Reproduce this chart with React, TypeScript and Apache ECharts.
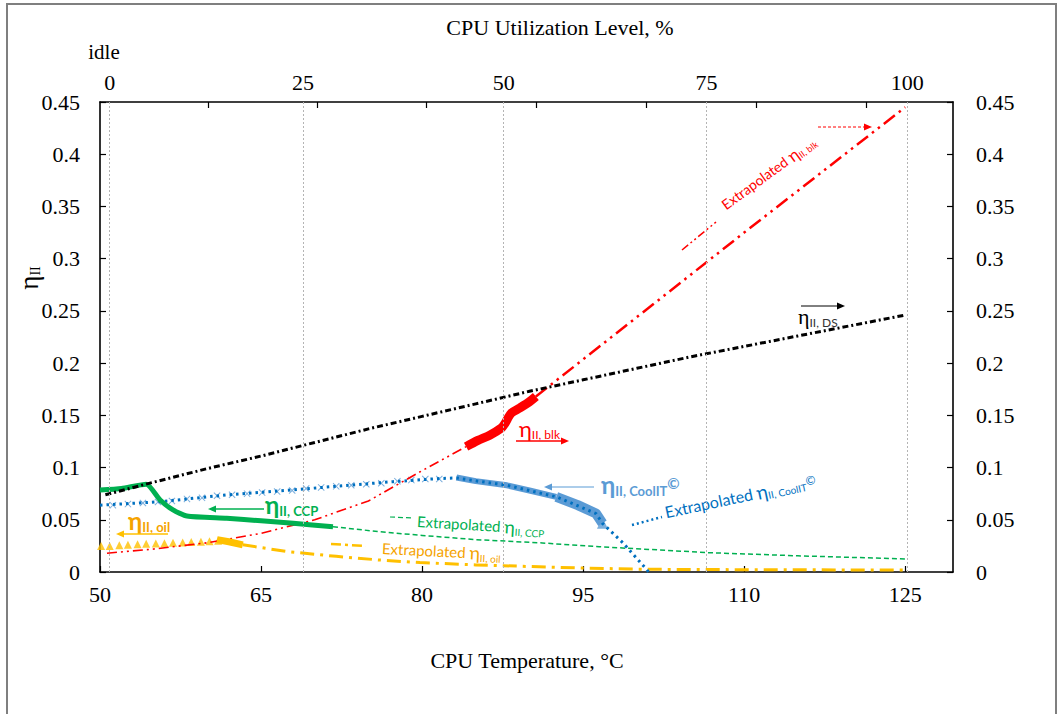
import { useEffect, useRef } from "react";
import * as echarts from "echarts";

// ---------- data ----------
// top axis: CPU utilization levels and the CPU temperatures where their gridlines sit
const utilLabels = ["0", "25", "50", "75", "100"];
const utilGridTemps = [50.9, 68.9, 87.6, 106.5, 125.2];
const topTickTemps = [60.1, 70.2, 80.4, 90.6, 100.9, 111.1, 121.4];

// eta_II, DS (black)
const dsTemp = [50.5, 55, 60, 65, 70, 75, 80, 85, 90, 95, 100, 105, 110, 115, 120, 125];
const dsEta = [0.074, 0.086, 0.099, 0.111, 0.124, 0.137, 0.149, 0.161, 0.173, 0.184, 0.195, 0.206, 0.216, 0.226, 0.236, 0.246];

// eta_II, blk (red) measured + extrapolated
const blkTemp = [84.1, 85.2, 86.3, 87.4, 87.7, 88.3, 89.1, 90.0, 90.6];
const blkEta = [0.120, 0.126, 0.131, 0.138, 0.142, 0.152, 0.157, 0.163, 0.168];
const blkExtLowTemp = [50.65, 55, 60, 65, 70, 75, 80, 84.1];
const blkExtLowEta = [0.018, 0.022, 0.028, 0.037, 0.050, 0.068, 0.097, 0.120];
const blkExtHighTemp = [90.6, 100, 110, 125];
const blkExtHighEta = [0.168, 0.244, 0.325, 0.445];

// eta_II, CCP (green)
const ccpTemp = [50, 52, 54.3, 55.6, 56.8, 58.1, 61.8, 65, 68, 71.7];
const ccpEta = [0.0785, 0.080, 0.084, 0.069, 0.0594, 0.0536, 0.0514, 0.049, 0.0466, 0.0434];
const ccpExtTemp = [71.7, 76, 80, 85, 91.2, 96.5, 106.7, 115, 125];
const ccpExtEta = [0.0434, 0.0386, 0.035, 0.031, 0.0278, 0.0242, 0.0185, 0.0155, 0.0125];

// eta_II, oil (orange)
const oilTemp = [50.1, 50.9, 51.8, 52.6, 53.5, 54.3, 55.2, 56.0, 56.8, 57.7, 58.5, 59.4, 60.2, 61.0];
const oilEta = [0.0248, 0.025, 0.0255, 0.026, 0.0265, 0.027, 0.0272, 0.0275, 0.028, 0.0283, 0.0287, 0.029, 0.0295, 0.030];
const oilEndTemp = [60.9, 62, 63.3];
const oilEndEta = [0.031, 0.029, 0.026];
const oilExtTemp = [63.3, 67.5, 72, 76, 79.8, 85, 90.9, 95, 100.8, 110, 125];
const oilExtEta = [0.026, 0.0195, 0.015, 0.0115, 0.009, 0.0068, 0.005, 0.0038, 0.0026, 0.0022, 0.0019];

// eta_II, CoolIT (blue)
const coolLineTemp = [50, 55.6, 61.8, 68.6, 77.3, 81.6, 83.2, 87.9, 92.5, 96.2, 96.8, 98.7, 100.9, 101.1];
const coolLineEta = [0.064, 0.0673, 0.0738, 0.0792, 0.0865, 0.0895, 0.090, 0.083, 0.072, 0.056, 0.0466, 0.028, 0.0026, 0];
const coolMarkTemp = [51.2, 52.6, 54.0, 55.4, 56.7, 58.1, 59.5, 60.9, 62.3, 63.7, 65.1, 66.5, 67.9, 69.2, 70.6, 72.0, 73.4, 74.8, 76.2, 77.7, 79.0, 80.3, 81.6];
const coolMarkEta = [0.064, 0.065, 0.066, 0.067, 0.068, 0.070, 0.071, 0.073, 0.074, 0.075, 0.076, 0.077, 0.078, 0.080, 0.081, 0.082, 0.083, 0.084, 0.085, 0.087, 0.088, 0.089, 0.089];
const coolDenseTemp = [83.2, 85, 87.9, 90, 92.5];
const coolDenseEta = [0.0905, 0.087, 0.083, 0.078, 0.072];
const coolDense2Temp = [92.5, 94.5, 96.2, 96.8];
const coolDense2Eta = [0.072, 0.064, 0.056, 0.0466];

// ---------- styling ----------
const SERIF = "'Liberation Serif', 'Times New Roman', serif";
const SANS = "Lato, 'Noto Sans', 'Open Sans', sans-serif";
const RED = "#ff0000";
const GREEN = "#00b050";
const ORANGE = "#ffc000";
const ORANGE_TXT = "#f5a300";
const BLUE = "#0070c0";
const LBLUE = "#5b9bd5";

const zip = (t: number[], v: number[]) => t.map((x, i) => [x, v[i]]);

const line = (data: number[][], color: string, width: number, type: any, extra: any = {}) => ({
  type: "line",
  data,
  symbol: "none",
  showSymbol: false,
  silent: true,
  lineStyle: { color, width, type, cap: "butt", join: "round" },
  itemStyle: { color },
  ...extra,
});

const X_SYMBOL = "path://M1,0L5,4L9,0L10,1L6,5L10,9L9,10L5,6L1,10L0,9L4,5L0,1Z";

function arrow(x1: number, y1: number, x2: number, y2: number, color: string, lw: number, dash?: number[], head = 8, hw = 3.5) {
  const dx = x2 - x1, dy = y2 - y1, L = Math.hypot(dx, dy), ux = dx / L, uy = dy / L;
  const bx = x2 - ux * head, by = y2 - uy * head;
  return [
    { type: "line", silent: true, shape: { x1, y1, x2: bx, y2: by }, style: { stroke: color, lineWidth: lw, lineDash: dash } },
    { type: "polygon", silent: true, shape: { points: [[x2, y2], [bx - uy * hw, by + ux * hw], [bx + uy * hw, by - ux * hw]] }, style: { fill: color } },
  ];
}

function seg(x1: number, y1: number, x2: number, y2: number, color: string, lw: number, dash?: number[]) {
  return { type: "line", silent: true, shape: { x1, y1, x2, y2 }, style: { stroke: color, lineWidth: lw, lineDash: dash } };
}

function etaLabel(x: number, y: number, sub: string, color: string, opts: any = {}) {
  const eSize = opts.eSize ?? 22;
  const sSize = opts.sSize ?? 12;
  const weight = opts.bold ? "bold" : "normal";
  const pad = opts.pad ?? 12;
  const pre = opts.pre ?? "";
  const sup = opts.sup ?? "";
  let text = "";
  if (pre) text += `{p|${pre}}`;
  text += `{e|η}{s|${sub}}`;
  if (sup) text += `{u|${sup}}`;
  return {
    type: "text",
    x,
    y,
    rotation: opts.rot ?? 0,
    silent: true,
    style: {
      text,
      align: "left",
      verticalAlign: "middle",
      rich: {
        p: { fontFamily: SANS, fontSize: opts.pSize ?? 15, fill: color, fontWeight: weight },
        e: { fontFamily: opts.eFont ?? SANS, fontSize: eSize, fill: color, fontWeight: weight },
        s: { fontFamily: SANS, fontSize: sSize, fill: opts.subColor ?? color, fontWeight: weight, padding: [pad, 0, 0, 0] },
        u: { fontFamily: SANS, fontSize: sSize + 2, fill: color, fontWeight: weight, padding: [0, 0, opts.supPad ?? 4, 0] },
      },
    },
  };
}

const axisText = { fontFamily: SERIF, fontSize: 22, color: "#000" };
const axisLineStyle = { show: true, onZero: false, lineStyle: { color: "#000", width: 1.6 } };
const tickStyle = { show: true, inside: true, length: 6, lineStyle: { color: "#000", width: 1.2 } };
const yFmt = (v: number) => (v === 0 ? "0" : String(parseFloat(v.toFixed(2))));

const graphics: any[] = [
  { type: "rect", silent: true, shape: { x: 7, y: 4, width: 1049, height: 800 }, style: { fill: "none", stroke: "#7f7f7f", lineWidth: 2 } },
  { type: "text", silent: true, x: 560, y: 27, style: { text: "CPU Utilization Level, %", fontFamily: SERIF, fontSize: 22, fill: "#000", align: "center", verticalAlign: "middle" } },
  { type: "text", silent: true, x: 527, y: 660, style: { text: "CPU Temperature, °C", fontFamily: SERIF, fontSize: 22, fill: "#000", align: "center", verticalAlign: "middle" } },
  { type: "text", silent: true, x: 104, y: 52, style: { text: "idle", fontFamily: SERIF, fontSize: 21, fill: "#000", align: "center", verticalAlign: "middle" } },
  {
    type: "text", silent: true, x: 29, y: 278, rotation: Math.PI / 2,
    style: {
      text: "{e|η}{s|II}", align: "center", verticalAlign: "middle",
      rich: { e: { fontFamily: SERIF, fontSize: 27, fill: "#000" }, s: { fontFamily: SERIF, fontSize: 14, fill: "#000", padding: [12, 0, 0, 0] } },
    },
  },
  // eta_II, blk
  etaLabel(519, 428, "II, blk", RED, { eSize: 22, sSize: 12 }),
  ...arrow(516, 441, 569, 441, RED, 1.3),
  // eta_II, CoolIT
  etaLabel(601, 484, "II, CoolIT", LBLUE, { eSize: 24, sSize: 13, bold: true, sup: "©", pad: 14, supPad: 2 }),
  ...arrow(594, 487, 544, 487, LBLUE, 1.2),
  // eta_II, DS
  etaLabel(798, 316, "II, DS", "#000", { eSize: 22, sSize: 12, eFont: SERIF, subColor: "#333" }),
  ...arrow(801, 306, 845, 306, "#000", 1),
  // eta_II, CCP
  etaLabel(265, 504, "II, CCP", GREEN, { eSize: 24, sSize: 13, bold: true, pad: 14 }),
  ...arrow(264, 509, 208, 509, GREEN, 1.5),
  // eta_II, oil
  etaLabel(128, 520, "II, oil", ORANGE_TXT, { eSize: 24, sSize: 13, bold: true, pad: 14 }),
  ...arrow(168, 534, 116, 534, ORANGE, 1.5),
  // Extrapolated CCP
  seg(390, 517, 413, 518, GREEN, 1.2, [5, 3]),
  etaLabel(417, 521, "II, CCP", GREEN, { pre: "Extrapolated ", pSize: 15, eSize: 18, sSize: 10, rot: -0.06, pad: 10 }),
  // Extrapolated oil
  seg(331, 544, 366, 546, ORANGE, 2.5, [10, 4, 3, 4]),
  etaLabel(382, 548, "II, oil", ORANGE_TXT, { pre: "Extrapolated ", pSize: 15, eSize: 18, sSize: 10, rot: -0.05, pad: 10 }),
  // Extrapolated CoolIT
  seg(632, 525, 662, 517, BLUE, 2.5, [2, 3]),
  etaLabel(665, 512, "II, CoolIT", BLUE, { pre: "Extrapolated ", pSize: 16, eSize: 19, sSize: 10, sup: "©", rot: 0.21, pad: 10, supPad: 2 }),
  // Extrapolated blk
  seg(682, 250, 716, 222, RED, 1.5, [8, 3, 2, 3, 2, 3]),
  etaLabel(723, 206, "II, blk", RED, { pre: "Extrapolated ", pSize: 14, eSize: 17, sSize: 9, rot: 0.63, pad: 9 }),
  ...arrow(818, 127, 872, 127, RED, 1, [3, 2]),
];

const option: any = {
  animation: false,
  backgroundColor: "#fff",
  grid: { left: 100, right: 105, top: 102, bottom: 142, containLabel: false },
  xAxis: [
    {
      type: "value", position: "bottom", min: 50, max: 129.45, interval: 15,
      axisLine: axisLineStyle, axisTick: tickStyle,
      axisLabel: { ...axisText, margin: 11, showMaxLabel: false },
      splitLine: { show: false },
    },
    {
      type: "value", position: "top", min: 50, max: 129.45,
      axisLine: axisLineStyle,
      axisTick: { ...tickStyle, customValues: topTickTemps },
      axisLabel: {
        ...axisText, margin: 9, customValues: utilGridTemps,
        formatter: (v: number) => {
          const i = utilGridTemps.findIndex((t) => Math.abs(t - v) < 1e-6);
          return i >= 0 ? utilLabels[i] : "";
        },
      },
      splitLine: { show: false },
    },
  ],
  yAxis: [
    {
      type: "value", position: "left", min: 0, max: 0.45, interval: 0.05,
      axisLine: axisLineStyle, axisTick: tickStyle,
      axisLabel: { ...axisText, margin: 20, formatter: yFmt },
      splitLine: { show: false },
    },
    {
      type: "value", position: "right", min: 0, max: 0.45, interval: 0.05,
      axisLine: axisLineStyle, axisTick: tickStyle,
      axisLabel: { ...axisText, margin: 23, formatter: yFmt },
      splitLine: { show: false },
    },
  ],
  series: [
    line(zip(ccpExtTemp, ccpExtEta), GREEN, 1.5, [5, 3], {
      markLine: {
        silent: true, symbol: "none", label: { show: false },
        lineStyle: { color: "#b4b4b4", width: 1, type: [2, 2] },
        data: utilGridTemps.map((t) => ({ xAxis: t })),
      },
    }),
    line(zip(oilExtTemp, oilExtEta), ORANGE, 3, [14, 6, 3, 6]),
    line(zip(coolDenseTemp, coolDenseEta), LBLUE, 6, "solid"),
    line(zip(coolDense2Temp, coolDense2Eta), LBLUE, 10, "solid"),
    line(zip(coolLineTemp, coolLineEta), BLUE, 3, [2.5, 4]),
    {
      type: "scatter", silent: true, data: zip(coolMarkTemp, coolMarkEta),
      symbol: X_SYMBOL, symbolSize: 7, itemStyle: { color: LBLUE },
    },
    {
      type: "scatter", silent: true, data: [[coolDense2Temp[3], coolDense2Eta[3]]],
      symbol: "triangle", symbolSize: 11, itemStyle: { color: LBLUE },
    },
    line(zip(blkExtLowTemp, blkExtLowEta), RED, 1.6, [10, 4, 2, 4, 2, 4]),
    line(zip(blkExtHighTemp, blkExtHighEta), RED, 2.5, [14, 5, 2.5, 5, 2.5, 5]),
    line(zip(ccpTemp, ccpEta), GREEN, 5, "solid", { smooth: 0.2 }),
    line(zip(dsTemp, dsEta), "#000", 3, [6, 3, 2, 3]),
    line(zip(blkTemp, blkEta), RED, 9, "solid", { smooth: 0.3 }),
    {
      type: "scatter", silent: true, data: zip(oilTemp, oilEta),
      symbol: "triangle", symbolSize: 8, itemStyle: { color: ORANGE },
    },
    line(zip(oilEndTemp, oilEndEta), ORANGE, 7, "solid"),
  ],
  graphic: graphics,
};

export default function App() {
  const ref = useRef<HTMLDivElement>(null);
  useEffect(() => {
    if (!ref.current) return;
    const chart = echarts.init(ref.current, null, { renderer: "svg" });
    chart.setOption(option);
    return () => chart.dispose();
  }, []);
  return (
    <div
      ref={ref}
      style={{ position: "absolute", left: 0, top: 0, width: 1058, height: 714, background: "#fff" }}
    />
  );
}
